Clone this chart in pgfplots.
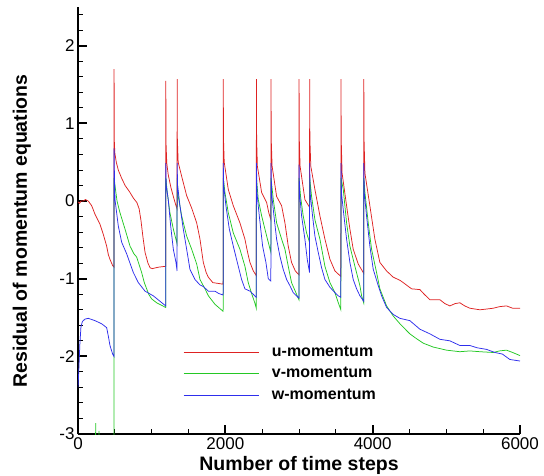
\documentclass[border=0pt]{standalone}
\usepackage{fontspec}
\setmainfont{Liberation Sans}
\usepackage{pgfplots}
\pgfplotsset{compat=1.18}

\definecolor{ucol}{RGB}{222,34,34}
\definecolor{vcol}{RGB}{36,200,36}
\definecolor{wcol}{RGB}{46,46,236}

\begin{document}
\begin{tikzpicture}
\begin{axis}[
  at={(0pt,0pt)}, anchor=south west,
  scale only axis, width=442pt, height=427pt,
  xmin=0, xmax=6000, ymin=-3, ymax=2.5,
  axis x line=bottom, axis y line=left,
  axis line style={-, line width=2pt, black},
  tick align=inside,
  xtick={0,2000,4000,6000}, xticklabels={0,2000,4000,6000},
  minor xtick={500,1000,1500,2500,3000,3500,4500,5000,5500},
  ytick={-3,-2,-1,0,1,2}, yticklabels={-3,-2,-1,0,1,2},
  minor ytick={-2.8,-2.6,-2.4,-2.2,-1.8,-1.6,-1.4,-1.2,-0.8,-0.6,-0.4,-0.2,
               0.2,0.4,0.6,0.8,1.2,1.4,1.6,1.8,2.2,2.4},
  major tick length=9pt, minor tick length=5pt,
  every major tick/.append style={line width=2pt, black},
  every minor tick/.append style={line width=1pt, black},
  tick label style={font=\fontsize{17}{20}\selectfont, black},
  xlabel={Number of time steps},
  ylabel={Residual of momentum equations},
  xlabel style={font=\fontsize{19.5}{23}\selectfont\bfseries, inner sep=0pt,
                at={(axis description cs:0.5,-0.0843)}, anchor=base},
  ylabel style={font=\fontsize{19.5}{23}\selectfont\bfseries, inner sep=0pt,
                at={(axis description cs:-0.1154,0.475)}, anchor=base, rotate=0},
  legend style={draw=none, fill=none, at={(axis cs:1384,-2.22)}, anchor=west,
                font=\fontsize{16}{19}\selectfont\bfseries,
                nodes={inner sep=0pt, text height=12pt, text depth=3pt},
                row sep=6.5pt, column sep=13pt},
  legend cell align=left,
  legend image code/.code={\draw[#1] (0pt,0pt) -- (75pt,0pt);},
  every axis plot/.append style={line width=0.75pt},
]
% u-momentum
\addplot[ucol] coordinates {
(0,-0.01) (20,-0.03) (40,0.0) (70,0.0) (100,0.02) (140,0.0) (186,-0.06) (231,-0.17)
(299,-0.3) (344,-0.43) (389,-0.58) (412,-0.69) (434,-0.75) (470,-0.83) (488,-0.85)
(490,1.70) (492,0.8) (500,0.62) (520,0.5) (547,0.4) (590,0.3) (640,0.2) (700,0.12)
(751,0.04) (800,-0.02) (830,-0.1) (855,-0.25) (880,-0.45) (910,-0.66) (950,-0.8)
(980,-0.86) (1010,-0.87) (1050,-0.86) (1100,-0.85) (1190,-0.84)
(1192,1.55) (1195,0.75) (1205,0.49) (1225,0.34) (1260,0.18) (1294,0.06) (1330,-0.06) (1345,-0.1)
(1346,1.57) (1349,0.8) (1360,0.5) (1407,0.32) (1475,0.07) (1543,-0.09) (1611,-0.28)
(1656,-0.49) (1701,-0.79) (1740,-0.92) (1769,-0.98) (1830,-1.05) (1900,-1.06) (1970,-1.07)
(1972,1.57) (1975,0.8) (1985,0.5) (2040,0.15) (2108,-0.06) (2198,-0.28) (2266,-0.49)
(2300,-0.65) (2334,-0.79) (2380,-0.9) (2420,-0.96)
(2422,1.57) (2425,0.8) (2435,0.45) (2493,0.11) (2561,-0.02) (2590,-0.15) (2618,-0.24)
(2620,1.57) (2623,0.8) (2635,0.45) (2696,0.06) (2764,-0.06) (2809,-0.28) (2854,-0.58)
(2899,-0.79) (2950,-0.9) (2999,-0.95)
(3001,1.57) (3004,0.8) (3015,0.45) (3080,0.02) (3143,-0.08)
(3145,1.57) (3148,0.8) (3160,0.45) (3216,0.15) (3284,-0.19) (3352,-0.49) (3420,-0.75)
(3488,-0.9) (3568,-0.97)
(3570,1.57) (3573,0.8) (3585,0.36) (3646,-0.06) (3691,-0.36) (3736,-0.62) (3804,-0.81) (3878,-0.93)
(3880,1.57) (3883,0.8) (3895,0.36) (3962,-0.06) (4030,-0.49) (4098,-0.79) (4189,-0.9)
(4279,-0.98) (4370,-1.02) (4415,-1.05) (4528,-1.13) (4641,-1.14) (4700,-1.2) (4777,-1.27)
(4912,-1.27) (4980,-1.32) (5048,-1.35) (5120,-1.32) (5184,-1.31) (5250,-1.35) (5320,-1.38)
(5455,-1.40) (5550,-1.39) (5636,-1.38) (5720,-1.36) (5817,-1.35) (5900,-1.38) (6000,-1.38)
};
\addlegendentry{u-momentum}
% v-momentum
\addplot[vcol] coordinates {
(0,-3.5) (236,-3.5) (240,-2.86) (244,-3.5) (281,-3.5) (285,-2.96) (289,-3.5) (489,-3.5)
(490,0.3) (502,0.2) (530,0.0) (570,-0.15) (638,-0.36) (706,-0.58) (760,-0.68) (796,-0.72)
(830,-0.82) (864,-0.92) (900,-1.05) (932,-1.13) (960,-1.2) (1000,-1.26) (1068,-1.31)
(1130,-1.34) (1190,-1.37)
(1192,0.3) (1212,0.11) (1248,-0.15) (1294,-0.36) (1345,-0.55)
(1346,0.3) (1361,0.06) (1407,-0.19) (1475,-0.45) (1543,-0.62) (1611,-0.81) (1656,-1.01)
(1724,-1.13) (1770,-1.22) (1860,-1.33) (1970,-1.42)
(1972,0.3) (1995,0.11) (2040,-0.15) (2108,-0.41) (2198,-0.62) (2266,-0.84) (2311,-1.05)
(2360,-1.2) (2400,-1.31) (2420,-1.38)
(2422,0.3) (2447,0.02) (2493,-0.19) (2561,-0.45) (2618,-0.66)
(2620,0.3) (2651,0.02) (2696,-0.28) (2764,-0.49) (2809,-0.62) (2854,-0.84) (2899,-1.05)
(2967,-1.2) (2999,-1.27)
(3001,0.3) (3021,0.06) (3057,-0.19) (3103,-0.41) (3143,-0.53)
(3145,0.3) (3171,0.06) (3216,-0.24) (3284,-0.49) (3352,-0.84) (3420,-1.05) (3488,-1.18)
(3530,-1.3) (3568,-1.4)
(3570,0.3) (3601,0.15) (3646,-0.28) (3691,-0.58) (3759,-0.84) (3827,-1.09) (3850,-1.22) (3878,-1.31)
(3880,0.3) (3895,0.11) (3940,-0.28) (3985,-0.62) (4053,-0.92) (4098,-1.13) (4189,-1.35)
(4279,-1.48) (4370,-1.58) (4442,-1.65) (4505,-1.71) (4577,-1.76) (4686,-1.83) (4822,-1.88)
(5003,-1.92) (5184,-1.94) (5320,-1.93) (5455,-1.94) (5636,-1.95) (5720,-1.93) (5817,-1.92)
(5900,-1.95) (6000,-1.99)
};
\addlegendentry{v-momentum}
% w-momentum
\addplot[wcol] coordinates {
(0,-2.4) (10,-2.2) (25,-1.85) (40,-1.62) (60,-1.55) (95,-1.52) (140,-1.51) (231,-1.54)
(321,-1.58) (389,-1.63) (412,-1.74) (434,-1.86) (470,-1.97) (488,-2.0)
(490,0.68) (495,0.3) (502,0.02) (547,-0.32) (593,-0.53) (661,-0.68) (751,-0.92) (819,-1.05)
(910,-1.16) (1022,-1.22) (1113,-1.29) (1190,-1.35)
(1192,0.49) (1198,0.2) (1225,0.02) (1258,-0.32) (1294,-0.62) (1330,-0.79) (1345,-0.9)
(1346,0.49) (1352,0.2) (1384,-0.06) (1429,-0.36) (1475,-0.62) (1520,-0.88) (1588,-1.01)
(1656,-1.08) (1701,-1.1) (1769,-1.16) (1859,-1.16) (1910,-1.19) (1970,-1.21)
(1972,0.49) (1978,0.2) (2008,-0.06) (2054,-0.36) (2108,-0.58) (2176,-0.84) (2221,-1.01)
(2266,-1.13) (2334,-1.16) (2379,-1.2) (2420,-1.24)
(2422,0.49) (2430,0.1) (2461,-0.19) (2506,-0.58) (2551,-0.79) (2583,-1.0) (2618,-1.03)
(2620,0.49) (2628,0.1) (2660,-0.19) (2696,-0.49) (2741,-0.71) (2786,-0.88) (2832,-1.01)
(2877,-1.09) (2922,-1.18) (2967,-1.22) (2999,-1.25)
(3001,0.47) (3008,0.1) (3035,-0.19) (3080,-0.49) (3112,-0.75) (3143,-0.92)
(3145,0.49) (3152,0.1) (3184,-0.19) (3216,-0.45) (3261,-0.66) (3307,-0.86) (3352,-1.01)
(3420,-1.11) (3488,-1.18) (3533,-1.22) (3568,-1.24)
(3570,0.49) (3577,0.1) (3610,-0.19) (3646,-0.49) (3691,-0.79) (3736,-1.01) (3782,-1.13)
(3827,-1.22) (3878,-1.29)
(3880,0.49) (3887,0.1) (3917,-0.19) (3962,-0.58) (4008,-0.88) (4076,-1.09) (4121,-1.22)
(4189,-1.37) (4279,-1.46) (4370,-1.51) (4505,-1.54) (4641,-1.65) (4777,-1.71) (4912,-1.78)
(5048,-1.80) (5184,-1.86) (5320,-1.86) (5420,-1.89) (5546,-1.91) (5659,-1.95) (5760,-1.97)
(5862,-2.04) (6000,-2.06)
};
\addlegendentry{w-momentum}
\end{axis}
\path (-78pt,-41pt) rectangle (466pt,434pt);
\end{tikzpicture}
\end{document}
